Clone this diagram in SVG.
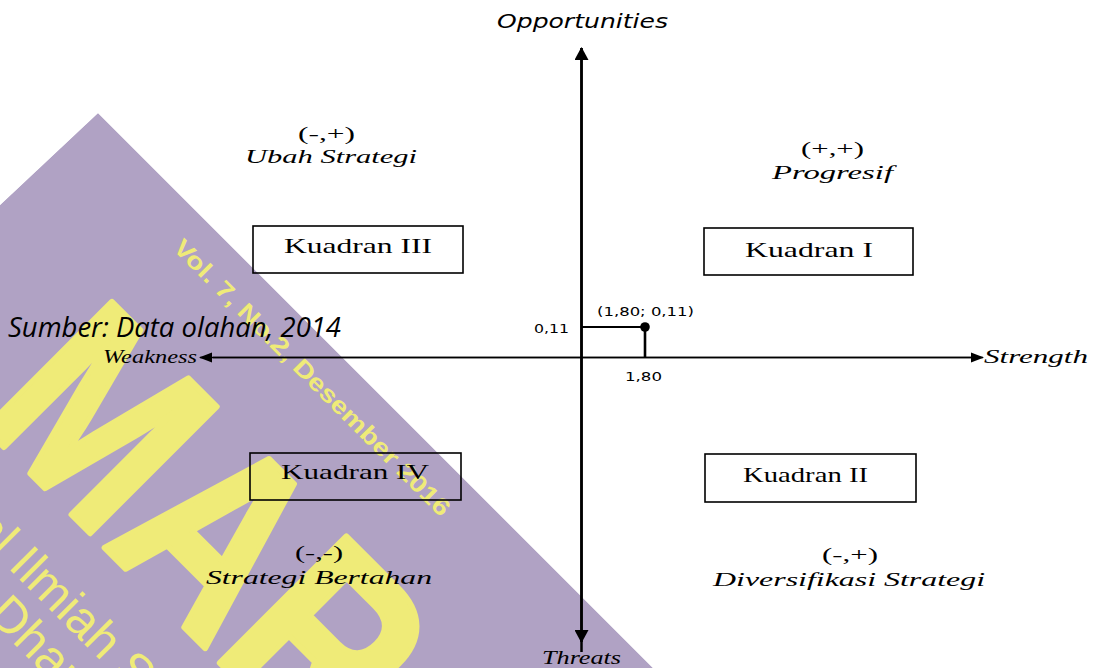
<svg xmlns="http://www.w3.org/2000/svg" width="1097" height="668" viewBox="0 0 1097 668">
<style>
.wmt{fill:#efeb78;font-family:"Liberation Sans",Arial,sans-serif;}
.ser{font-family:"Liberation Serif","Times New Roman",serif;fill:#000;}
.iser{font-family:"Liberation Serif","Times New Roman",serif;font-style:italic;fill:#000;}
.sans{font-family:"DejaVu Sans",Verdana,sans-serif;fill:#000;}
.box{fill:none;stroke:#000;stroke-width:1.6;}
.ax{stroke:#000;fill:none;}
</style>
<defs>
<clipPath id="wmclip"><polygon points="0,205 98,113 656,671 0,671"/></clipPath>
<marker id="ah" markerWidth="14" markerHeight="14" refX="12" refY="7" orient="auto" markerUnits="userSpaceOnUse"><path d="M0,0 L13,7 L0,14 Z" fill="#000"/></marker>
<marker id="ahs" markerWidth="14" markerHeight="12" refX="12" refY="6" orient="auto" markerUnits="userSpaceOnUse"><path d="M0,1 L13,6 L0,11 Z" fill="#000"/></marker>
</defs>
<rect width="1097" height="668" fill="#fff"/>
<g id="watermark" clip-path="url(#wmclip)">
<polygon points="0,205 98,113 656,671 0,671" fill="#b0a2c4"/>
<text class="wmt" transform="translate(172,249) rotate(45)" font-size="24" font-weight="bold" textLength="380" lengthAdjust="spacingAndGlyphs">Vol. 7, No.2, Desember 2016</text>
<text class="wmt" transform="translate(-25,418) rotate(45) scale(0.82,1)" font-size="260" font-weight="bold" stroke="#efeb78" stroke-width="6" stroke-linejoin="round">MAR</text>
<text class="wmt" transform="translate(-30,530) rotate(45)" font-size="50">al Ilmiah Se</text>
<text class="wmt" transform="translate(-14,616) rotate(45)" font-size="50">Dharm</text>
</g>
<g id="connectors">
<line class="ax" x1="581.5" y1="652" x2="581.5" y2="48" stroke-width="2.5" marker-end="url(#ah)"/>
<line class="ax" x1="581.5" y1="48" x2="581.5" y2="642" stroke-width="2.5" marker-end="url(#ah)"/>
<line class="ax" x1="213" y1="357.5" x2="983" y2="357.5" stroke-width="1.6" marker-end="url(#ahs)"/>
<line class="ax" x1="972" y1="357.5" x2="200" y2="357.5" stroke-width="1.6" marker-end="url(#ahs)"/>
<line class="ax" x1="581.5" y1="327" x2="645" y2="327" stroke-width="1.8"/>
<line class="ax" x1="645" y1="327" x2="645" y2="357.5" stroke-width="2.6"/>
<circle cx="645" cy="327" r="4.8" fill="#000"/>
</g>
<g id="axis-labels">
<text class="sans" x="497" y="28" font-size="19" font-style="italic" textLength="171" lengthAdjust="spacingAndGlyphs">Opportunities</text>
<text class="iser" x="542" y="664" font-size="19" textLength="79" lengthAdjust="spacingAndGlyphs">Threats</text>
<text class="iser" x="984" y="363" font-size="19" textLength="104" lengthAdjust="spacingAndGlyphs">Strength</text>
<text class="iser" x="103" y="363" font-size="19" textLength="94" lengthAdjust="spacingAndGlyphs">Weakness</text>
</g>
<g id="point-labels">
<text class="sans" x="534" y="333" font-size="13" textLength="35" lengthAdjust="spacingAndGlyphs">0,11</text>
<text class="sans" x="597" y="316" font-size="13" textLength="97" lengthAdjust="spacingAndGlyphs">(1,80; 0,11)</text>
<text class="sans" x="625" y="381" font-size="13" textLength="37" lengthAdjust="spacingAndGlyphs">1,80</text>
</g>
<g id="source">
<text x="8" y="337" font-family="'Open Sans','Noto Sans',sans-serif" font-style="italic" font-size="27" textLength="333" lengthAdjust="spacingAndGlyphs" fill="#000">Sumber: Data olahan, 2014</text>
</g>
<g id="q3">
<text class="ser" x="298" y="140" font-size="19" textLength="57" lengthAdjust="spacingAndGlyphs">(-,+)</text>
<text class="iser" x="245" y="163" font-size="19" textLength="172" lengthAdjust="spacingAndGlyphs">Ubah Strategi</text>
<rect class="box" x="253" y="226" width="210" height="47"/>
<text class="ser" x="284" y="253" font-size="21" textLength="148" lengthAdjust="spacingAndGlyphs">Kuadran III</text>
</g>
<g id="q1">
<text class="ser" x="801" y="155" font-size="19" textLength="63" lengthAdjust="spacingAndGlyphs">(+,+)</text>
<text class="iser" x="772" y="179" font-size="19" textLength="121" lengthAdjust="spacingAndGlyphs">Progresif</text>
<rect class="box" x="704" y="228" width="209" height="47"/>
<text class="ser" x="745" y="257" font-size="21" textLength="128" lengthAdjust="spacingAndGlyphs">Kuadran I</text>
</g>
<g id="q4">
<rect class="box" x="250" y="453" width="211" height="47"/>
<text class="ser" x="281" y="479" font-size="21" textLength="148" lengthAdjust="spacingAndGlyphs">Kuadran IV</text>
<text class="ser" x="295" y="559" font-size="19" textLength="48" lengthAdjust="spacingAndGlyphs">(-,-)</text>
<text class="iser" x="206" y="584" font-size="19" textLength="226" lengthAdjust="spacingAndGlyphs">Strategi Bertahan</text>
</g>
<g id="q2">
<rect class="box" x="705" y="454" width="211" height="48"/>
<text class="ser" x="743" y="482" font-size="21" textLength="125" lengthAdjust="spacingAndGlyphs">Kuadran II</text>
<text class="ser" x="822" y="561" font-size="19" textLength="56" lengthAdjust="spacingAndGlyphs">(-,+)</text>
<text class="iser" x="713" y="586" font-size="19" textLength="272" lengthAdjust="spacingAndGlyphs">Diversifikasi Strategi</text>
</g>
</svg>
